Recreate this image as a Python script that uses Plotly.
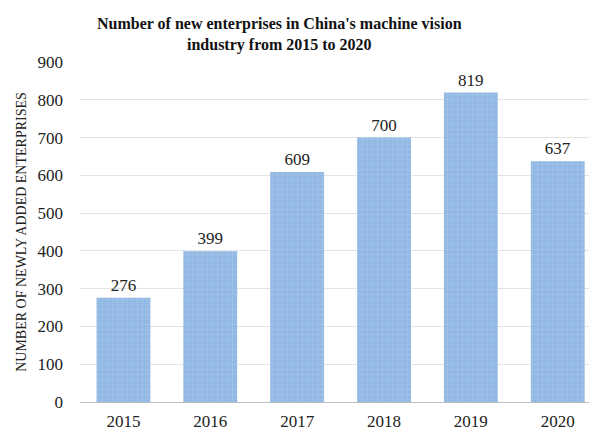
import plotly.graph_objects as go

years = ["2015", "2016", "2017", "2018", "2019", "2020"]
new_enterprises = [276, 399, 609, 700, 819, 637]
y_ticks = [0, 100, 200, 300, 400, 500, 600, 700, 800, 900]

serif = "Liberation Serif, Times New Roman, serif"

fig = go.Figure(
    go.Bar(
        x=years,
        y=new_enterprises,
        text=[str(v) for v in new_enterprises],
        textposition="outside",
        textfont=dict(family=serif, size=17, color="#222222"),
        cliponaxis=False,
        marker=dict(
            color="#91b9e3",
            line=dict(width=0),
            pattern=dict(shape="+", fgcolor="#c8ddf3", size=5, solidity=0.15),
        ),
    )
)

fig.update_layout(
    width=589,
    height=430,
    margin=dict(l=80, r=0, t=62, b=28),
    paper_bgcolor="white",
    plot_bgcolor="white",
    bargap=0.38,
    showlegend=False,
    xaxis=dict(
        range=[-0.5, 5.36],
        tickfont=dict(family=serif, size=17, color="#222222"),
        showline=False,
        ticks="",
        ticklabelstandoff=7,
    ),
    yaxis=dict(
        range=[0, 900],
        tickvals=y_ticks,
        tickfont=dict(family=serif, size=17, color="#222222"),
        showgrid=True,
        gridcolor="#e3e3e3",
        zeroline=True,
        zerolinecolor="#bfbfbf",
        zerolinewidth=1,
        ticks="",
        ticklabelstandoff=16,
        title=dict(
            text="NUMBER OF NEWLY ADDED ENTERPRISES",
            font=dict(family=serif, size=14, color="#222222"),
            standoff=7,
        ),
    ),
    annotations=[
        dict(
            text="<b>Number of new enterprises in China's machine vision<br>industry from 2015 to 2020</b>",
            xref="paper",
            yref="paper",
            x=0.391,
            y=1.08,
            xanchor="center",
            yanchor="middle",
            showarrow=False,
            font=dict(family=serif, size=16, color="#111111"),
        )
    ],
)

fig.write_html("out.html")
